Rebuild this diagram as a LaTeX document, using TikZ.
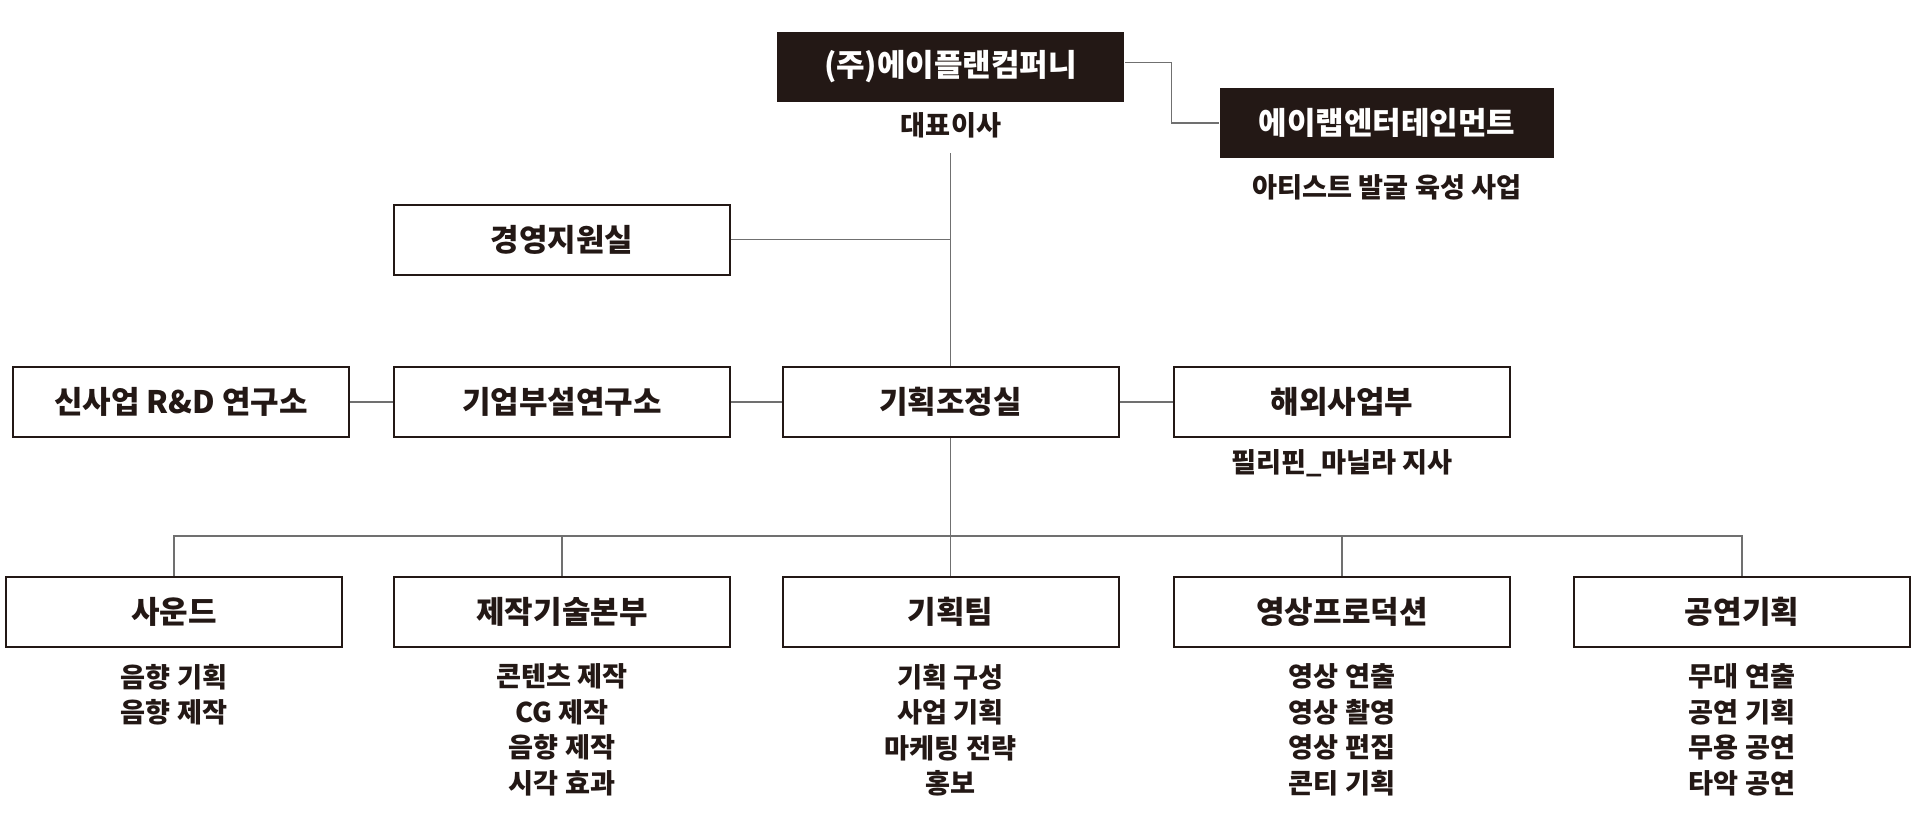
\documentclass[tikz,border=0pt]{standalone}
\usepackage{fontspec}
\setmainfont{Noto Sans CJK KR}
\usepackage{tikz}

\definecolor{ink}{HTML}{231815}
\definecolor{wire}{HTML}{707070}

\begin{document}
\begin{tikzpicture}[
    x=0.5pt,y=-0.5pt,
    dept/.style={draw=ink,line width=1pt,fill=white,minimum width=168pt,minimum height=35pt,
      inner sep=0pt,text=ink,font=\fontsize{15.5}{18}\selectfont\bfseries},
    head/.style={dept,draw=none,fill=ink,text=white},
    note/.style={text=ink,align=center,inner sep=0pt,font=\fontsize{13.6}{17.75}\selectfont\bfseries},
    link/.style={draw=wire,line width=0.65pt}
    ]
    \useasboundingbox (0,0) rectangle (1920,837);
    \node[head,minimum width=173.5pt] (ceo) at (950.5,66.7) {(주)에이플랜컴퍼니};
    \node[head,minimum width=167pt] (ent) at (1387,123) {에이랩엔터테인먼트};
    \node[note] (ceotxt) at (951,125) {대표이사};
    \node[note] (enttxt) at (1387,187) {아티스트 발굴 육성 사업};
    \coordinate (stem) at (950.5,153);
    \coordinate (jog) at (1171.5,62.7);
    \coordinate (bus) at (0,536);

    \node[dept] (mgmt) at (562,239.5) {경영지원실};
    \node[dept] (rnd) at (181,402) {신사업 R\&D 연구소};
    \node[dept] (lab) at (562,402) {기업부설연구소};
    \node[dept] (plan) at (950.5,402) {기획조정실};
    \node[dept] (intl) at (1342,402) {해외사업부};
    \node[note] (intltxt) at (1342,463) {필리핀\_마닐라 지사};

    \node[dept] (sound) at (174,612) {사운드};
    \node[dept] (tech) at (562,612) {제작기술본부};
    \node[dept] (team) at (950.5,612) {기획팀};
    \node[dept] (video) at (1342,612) {영상프로덕션};
    \node[dept] (stage) at (1742,612) {공연기획};

    \node[note] (soundtxt) at (174,694.5) {음향 기획\\음향 제작};
    \node[note] (techtxt) at (562,730) {콘텐츠 제작\\CG 제작\\음향 제작\\시각 효과};
    \node[note] (teamtxt) at (950.5,730) {기획 구성\\사업 기획\\마케팅 전략\\홍보};
    \node[note] (videotxt) at (1342,730) {영상 연출\\영상 촬영\\영상 편집\\콘티 기획};
    \node[note] (stagetxt) at (1742,730) {무대 연출\\공연 기획\\무용 공연\\타악 공연};

    \draw[link] (ceo.east |- jog) -- (jog) |- (ent.west);
    \draw[link] (stem) -- (plan.north);
    \draw[link] (mgmt.east) -- (mgmt.east -| stem);
    \draw[link] (rnd.east) -- (lab.west);
    \draw[link] (lab.east) -- (plan.west);
    \draw[link] (plan.east) -- (intl.west);
    \draw[link] (plan.south) -- (team.north);
    \draw[link] (sound.north) -- (sound.north |- bus) -- (stage.north |- bus) -- (stage.north);
    \foreach \n in {tech,video}
      \draw[link] (\n.north) -- (\n.north |- bus);
  \end{tikzpicture}
\end{document}
